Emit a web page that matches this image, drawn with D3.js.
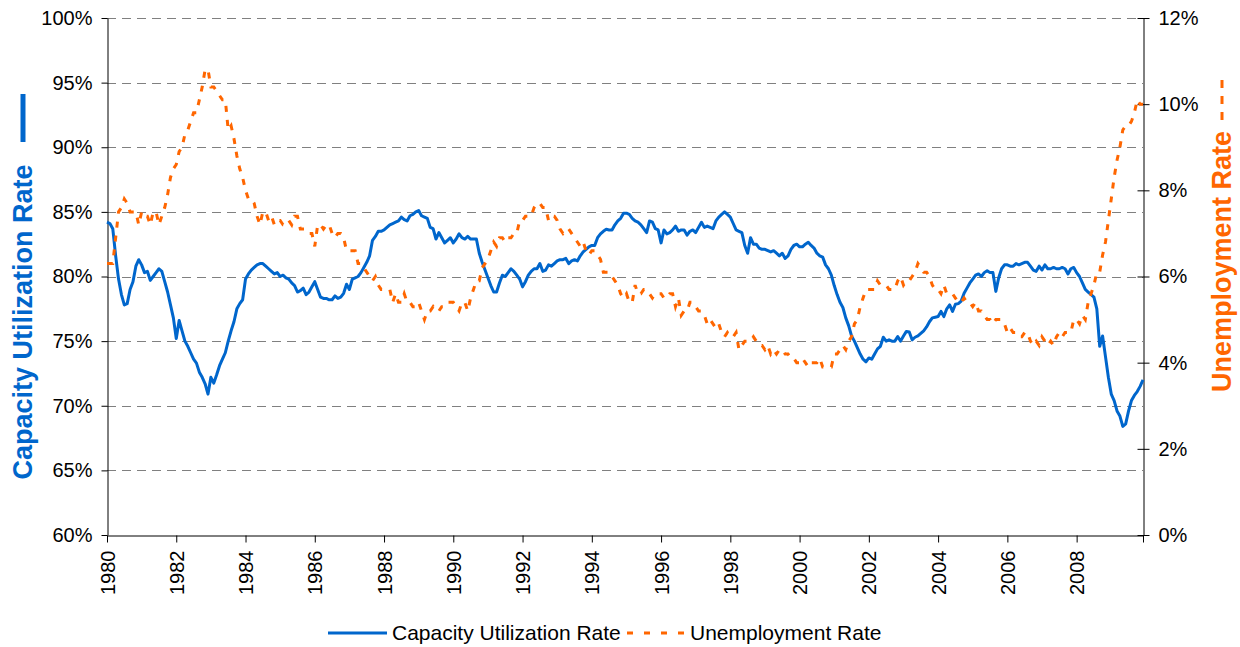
<!DOCTYPE html>
<html><head><meta charset="utf-8">
<script src="https://cdn.jsdelivr.net/npm/d3@7"></script>
<style>
body{margin:0;background:#fff}
svg{display:block}
text{font-family:"Liberation Sans",Arial,Helvetica,sans-serif}
</style>
</head><body>
<svg id="chart" width="1240" height="647"></svg>
<script>
// ---------------- DATA (monthly, Jan 1980 - Dec 2009) ----------------
const startYear = 1980;
const seriesNames = ["Capacity Utilization Rate", "Unemployment Rate"];
const leftTicks = [60, 65, 70, 75, 80, 85, 90, 95, 100];
const rightTicks = [0, 2, 4, 6, 8, 10, 12];
const yearLabels = [1980,1982,1984,1986,1988,1990,1992,1994,1996,1998,2000,2002,2004,2006,2008];

const capUtil = [
  84.2,84.1,83.7,81.6,79.8,78.6,77.8,77.9,79.0,79.6,80.8,81.3, // 1980
  80.9,80.3,80.4,79.7,80.0,80.3,80.6,80.4,79.6,78.8,77.8,76.8, // 1981
  75.2,76.6,75.8,75.0,74.6,74.1,73.6,73.3,72.6,72.2,71.7,70.9, // 1982
  72.2,71.75,72.4,73.1,73.6,74.1,75.0,75.8,76.5,77.5,77.9,78.2, // 1983
  79.8,80.2,80.5,80.7,80.9,81.0,81.0,80.8,80.6,80.4,80.2,80.3, // 1984
  80.0,80.1,79.9,79.8,79.5,79.3,78.8,78.9,79.1,78.6,78.8,79.2, // 1985
  79.6,79.0,78.4,78.3,78.3,78.2,78.2,78.5,78.3,78.4,78.7,79.4, // 1986
  79.0,79.8,79.9,80.0,80.3,80.7,81.1,81.6,82.8,83.1,83.5,83.5, // 1987
  83.6,83.8,84.0,84.1,84.2,84.3,84.6,84.4,84.3,84.7,84.8,85.0, // 1988
  85.1,84.7,84.6,84.5,83.8,83.7,82.9,83.4,83.0,82.6,82.8,83.0, // 1989
  82.6,82.9,83.3,83.0,82.9,83.1,82.9,82.9,82.9,81.8,81.1,80.5, // 1990
  79.9,79.3,78.8,78.8,79.5,80.1,80.0,80.3,80.6,80.4,80.1,79.8, // 1991
  79.2,79.6,80.1,80.4,80.6,80.6,81.0,80.4,80.5,80.9,80.8,81.0, // 1992
  81.2,81.3,81.3,81.4,81.0,81.2,81.3,81.2,81.6,81.9,82.1,82.3, // 1993
  82.4,82.4,83.0,83.3,83.5,83.65,83.6,83.6,84.0,84.3,84.5,84.9, // 1994
  84.9,84.8,84.5,84.3,84.2,84.0,83.7,83.4,84.3,84.2,83.7,83.6, // 1995
  82.6,83.6,83.3,83.4,83.6,83.9,83.5,83.6,83.6,83.2,83.5,83.6, // 1996
  83.4,83.8,84.2,83.8,83.9,83.8,83.7,84.3,84.6,84.8,85.0,84.8, // 1997
  84.6,84.1,83.6,83.5,83.4,82.4,81.8,83.0,82.5,82.5,82.2,82.1, // 1998
  82.1,82.0,81.9,82.0,81.8,81.6,81.8,81.4,81.6,82.1,82.4,82.5, // 1999
  82.3,82.3,82.5,82.65,82.4,82.2,81.8,81.6,81.5,80.9,80.6,80.1, // 2000
  79.3,78.6,78.0,77.6,76.8,76.2,75.4,75.0,74.5,74.0,73.6,73.4, // 2001
  73.7,73.6,74.0,74.4,74.6,75.3,75.0,75.1,75.0,75.0,75.35,75.0, // 2002
  75.4,75.75,75.7,75.1,75.3,75.4,75.6,75.8,76.1,76.5,76.8,76.85, // 2003
  76.9,77.3,76.9,77.5,77.8,77.3,77.85,77.9,78.1,78.7,79.1,79.5, // 2004
  79.8,80.1,80.2,80.0,80.3,80.45,80.3,80.3,78.85,79.9,80.6,80.9, // 2005
  80.9,80.8,80.8,81.0,80.9,81.0,81.1,81.1,80.8,80.5,80.4,80.8, // 2006
  80.5,80.9,80.6,80.6,80.7,80.6,80.6,80.7,80.6,80.2,80.6,80.7, // 2007
  80.3,80.0,79.5,79.0,78.8,78.6,78.4,77.5,74.6,75.4,73.8,72.2, // 2008
  70.9,70.4,69.6,69.2,68.4,68.6,69.6,70.4,70.8,71.1,71.5,72.0  // 2009
];

const unemp = [
  6.3,6.3,6.3,6.9,7.5,7.6,7.8,7.7,7.5,7.5,7.5,7.2, // 1980
  7.5,7.4,7.4,7.2,7.5,7.5,7.2,7.4,7.6,7.9,8.3,8.5, // 1981
  8.6,8.9,9.0,9.3,9.4,9.6,9.8,9.8,10.1,10.4,10.8,10.8, // 1982
  10.4,10.4,10.3,10.2,10.1,10.1,9.4,9.5,9.2,8.8,8.5,8.3, // 1983
  8.0,7.8,7.8,7.7,7.4,7.2,7.5,7.5,7.3,7.4,7.2,7.3, // 1984
  7.3,7.2,7.2,7.3,7.2,7.4,7.4,7.1,7.1,7.1,7.0,7.0, // 1985
  6.7,7.2,7.2,7.1,7.2,7.2,7.0,6.9,7.0,7.0,6.9,6.6, // 1986
  6.6,6.6,6.6,6.3,6.3,6.2,6.1,6.0,5.9,6.0,5.8,5.7, // 1987
  5.7,5.7,5.7,5.4,5.6,5.4,5.4,5.6,5.4,5.4,5.3,5.3, // 1988
  5.4,5.2,5.0,5.2,5.2,5.3,5.2,5.2,5.3,5.3,5.4,5.4, // 1989
  5.4,5.3,5.2,5.4,5.4,5.2,5.5,5.7,5.9,5.9,6.2,6.3, // 1990
  6.4,6.6,6.8,6.7,6.9,6.9,6.8,6.9,6.9,7.0,7.0,7.3, // 1991
  7.3,7.4,7.4,7.4,7.6,7.7,7.7,7.6,7.6,7.3,7.4,7.4, // 1992
  7.3,7.1,7.0,7.1,7.1,7.0,6.9,6.8,6.7,6.8,6.6,6.5, // 1993
  6.6,6.6,6.5,6.4,6.1,6.1,6.1,6.0,5.9,5.8,5.6,5.5, // 1994
  5.6,5.4,5.4,5.8,5.6,5.6,5.7,5.7,5.6,5.5,5.6,5.6, // 1995
  5.6,5.5,5.5,5.6,5.6,5.3,5.5,5.1,5.2,5.2,5.4,5.4, // 1996
  5.3,5.2,5.2,5.1,4.9,5.0,4.9,4.8,4.9,4.7,4.6,4.7, // 1997
  4.6,4.6,4.7,4.3,4.4,4.5,4.5,4.5,4.6,4.5,4.4,4.4, // 1998
  4.3,4.4,4.2,4.3,4.2,4.3,4.3,4.2,4.2,4.1,4.1,4.0, // 1999
  4.0,4.1,4.0,3.9,4.0,4.0,4.0,4.1,3.9,3.9,3.9,3.9, // 2000
  4.2,4.2,4.3,4.4,4.3,4.5,4.6,4.9,5.0,5.3,5.5,5.7, // 2001
  5.7,5.7,5.7,5.9,5.8,5.8,5.8,5.7,5.7,5.7,5.9,6.0, // 2002
  5.8,5.9,5.9,6.0,6.1,6.3,6.2,6.1,6.1,6.0,5.8,5.7, // 2003
  5.7,5.6,5.8,5.6,5.6,5.6,5.5,5.4,5.4,5.5,5.4,5.4, // 2004
  5.3,5.4,5.2,5.2,5.1,5.0,5.0,4.9,5.0,5.0,5.0,4.9, // 2005
  4.7,4.8,4.7,4.7,4.6,4.6,4.7,4.7,4.5,4.4,4.5,4.4, // 2006
  4.6,4.5,4.4,4.5,4.4,4.6,4.7,4.6,4.7,4.7,4.7,5.0, // 2007
  5.0,4.9,5.1,5.0,5.4,5.6,5.8,6.1,6.1,6.5,6.8,7.3, // 2008
  7.8,8.3,8.7,9.0,9.4,9.5,9.5,9.6,9.8,10.1,10.0,10.0 // 2009
];

// ---------------- CHART ----------------
const BLUE = "#0066CC", ORANGE = "#FF6600";
const svg = d3.select("#chart");
const P = {l:107, r:1143, t:18, b:535};

const x = d3.scaleLinear().domain([0, capUtil.length - 1]).range([P.l, P.r]);
const yL = d3.scaleLinear().domain([60, 100]).range([P.b, P.t]);
const yR = d3.scaleLinear().domain([0, 12]).range([P.b, P.t]);

// gridlines
svg.append("g").selectAll("line")
  .data(leftTicks.filter(d => d > 60))
  .join("line")
  .attr("x1", P.l).attr("x2", P.r)
  .attr("y1", d => Math.round(yL(d)) + 0.5).attr("y2", d => Math.round(yL(d)) + 0.5)
  .attr("stroke", "#808080").attr("stroke-width", 1)
  .attr("stroke-dasharray", "9,6");

// left axis
const gL = svg.append("g").attr("transform", `translate(${P.l + 0.5},0)`)
  .call(d3.axisLeft(yL).tickValues(leftTicks).tickFormat(d => d + "%")
        .tickSizeInner(6).tickSizeOuter(0).tickPadding(9));
// right axis
const gR = svg.append("g").attr("transform", `translate(${P.r + 0.5},0)`)
  .call(d3.axisRight(yR).tickValues(rightTicks).tickFormat(d => d + "%")
        .tickSizeInner(6).tickSizeOuter(0).tickPadding(9));
gR.selectAll(".tick line").attr("x1", -6).attr("x2", 6);
// bottom axis
const tickIdx = yearLabels.map(yr => (yr - startYear) * 12);
const gB = svg.append("g").attr("transform", `translate(0,${P.b + 0.5})`)
  .call(d3.axisBottom(x).tickValues(tickIdx).tickFormat(i => String(startYear + i / 12))
        .tickSizeInner(7).tickSizeOuter(0));
gB.selectAll(".tick text")
  .attr("transform", "rotate(-90)")
  .attr("x", -15).attr("y", 0).attr("dy", "0.35em")
  .attr("text-anchor", "end");
svg.append("line").attr("x1", P.r + 0.5).attr("x2", P.r + 0.5)
  .attr("y1", P.b).attr("y2", P.b + 7.5).attr("stroke", "#000");

[gL, gR, gB].forEach(g => {
  g.selectAll("text").attr("font-size", 20).attr("fill", "#000")
    .attr("font-family", '"Liberation Sans",Arial,sans-serif');
  g.selectAll("line, path").attr("stroke", "#000").attr("stroke-width", 1);
});

// series
const lineCap = d3.line().x((d, i) => x(i)).y(d => yL(d));
const lineUn = d3.line().x((d, i) => x(i)).y(d => yR(d));

svg.append("path").datum(capUtil)
  .attr("d", lineCap).attr("fill", "none")
  .attr("stroke", BLUE).attr("stroke-width", 3).attr("stroke-linejoin", "round");

svg.append("path").datum(unemp)
  .attr("d", lineUn).attr("fill", "none")
  .attr("stroke", ORANGE).attr("stroke-width", 3)
  .attr("stroke-dasharray", "6,8");

// axis titles
svg.append("text")
  .attr("transform", "translate(32,322) rotate(-90)")
  .attr("text-anchor", "middle").attr("font-size", 27).attr("font-weight", "bold")
  .attr("fill", BLUE).text(seriesNames[0]);
svg.append("line").attr("x1", 23).attr("x2", 23).attr("y1", 94).attr("y2", 142)
  .attr("stroke", BLUE).attr("stroke-width", 5);

svg.append("text")
  .attr("transform", "translate(1231,261.5) rotate(-90)")
  .attr("text-anchor", "middle").attr("font-size", 27).attr("font-weight", "bold")
  .attr("fill", ORANGE).text(seriesNames[1]);
svg.append("line").attr("x1", 1222).attr("x2", 1222).attr("y1", 80).attr("y2", 127)
  .attr("stroke", ORANGE).attr("stroke-width", 3).attr("stroke-dasharray", "8,8");

// legend
const lg = svg.append("g");
lg.append("line").attr("x1", 328).attr("x2", 387).attr("y1", 633).attr("y2", 633)
  .attr("stroke", BLUE).attr("stroke-width", 3);
lg.append("text").attr("x", 392).attr("y", 640).attr("font-size", 21).attr("fill", "#000")
  .text(seriesNames[0]);
lg.append("line").attr("x1", 627).attr("x2", 685).attr("y1", 633).attr("y2", 633)
  .attr("stroke", ORANGE).attr("stroke-width", 3).attr("stroke-dasharray", "6,11");
lg.append("text").attr("x", 690).attr("y", 640).attr("font-size", 21).attr("fill", "#000")
  .text(seriesNames[1]);
</script>
</body></html>
